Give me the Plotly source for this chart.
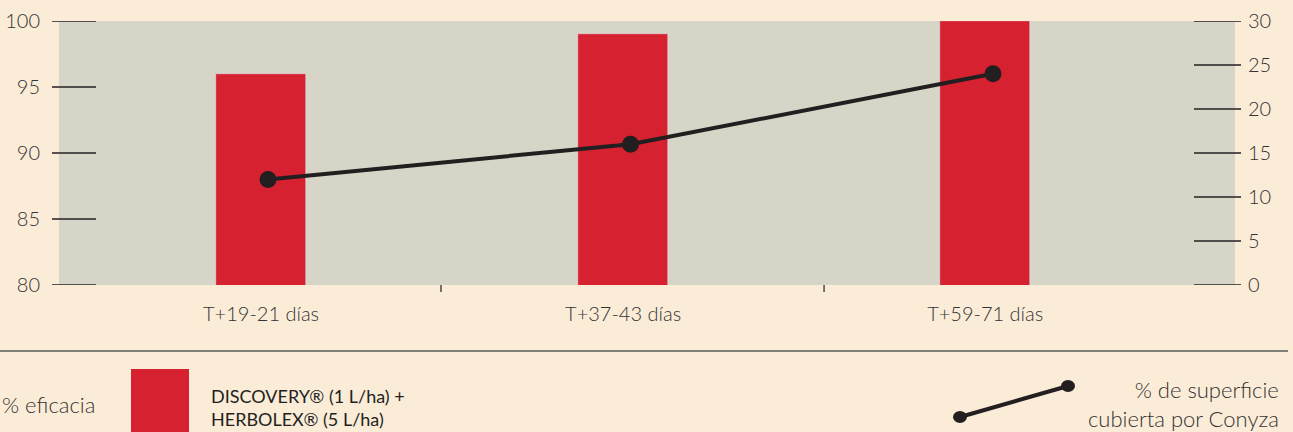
import plotly.graph_objects as go

# ---- data ----
categories = ["T+19-21 días", "T+37-43 días", "T+59-71 días"]
eficacia = [96, 99, 100]            # % eficacia (left axis)
superficie = [12, 16, 24]           # % superficie cubierta por Conyza (right axis)
left_ticks = [80, 85, 90, 95, 100]
right_ticks = [0, 5, 10, 15, 20, 25, 30]
x_idx = [0, 1, 2]
x_separators = [0.497, 1.555]

bar_name = "DISCOVERY® (1 L/ha) +<br>HERBOLEX® (5 L/ha)"
line_name = "% de superficie<br>cubierta por Conyza"

PAPER = "#FBECD8"
PLOT = "#D7D5C7"
RED = "#D52130"
DARK = "#231F20"
TXT = "#333333"
FONT = "Lato"

fig = go.Figure()

fig.add_trace(go.Bar(
    x=x_idx, y=eficacia, name=bar_name, marker_color=RED,
    width=0.249, xaxis="x", yaxis="y", showlegend=False,
))
fig.add_trace(go.Scatter(
    x=x_idx, y=superficie, name=line_name, mode="lines+markers",
    line=dict(color=DARK, width=4),
    marker=dict(color=DARK, size=17),
    xaxis="x2", yaxis="y2", showlegend=False,
))

# plot area: x 59..1235, y 21..285
W, H = 1176, 264
def px(x):
    return (x - 59) / W
def py(y):
    return (285 - y) / H

shapes = []
for v in left_ticks:
    shapes.append(dict(type="line", xref="paper", yref="y", x0=px(52), x1=px(96),
                       y0=v, y1=v, line=dict(color=DARK, width=1.5), layer="above"))
for v in right_ticks:
    shapes.append(dict(type="line", xref="paper", yref="y2", x0=px(1194), x1=px(1241),
                       y0=v, y1=v, line=dict(color=DARK, width=1.5), layer="above"))
for xs in x_separators:
    shapes.append(dict(type="line", xref="x", yref="paper", x0=xs, x1=xs,
                       y0=py(285), y1=py(292), line=dict(color=DARK, width=1.2)))
shapes.append(dict(type="line", xref="paper", yref="paper", x0=px(0), x1=px(1288),
                   y0=py(351), y1=py(351), line=dict(color="#5A5A5A", width=1.5)))
shapes.append(dict(type="rect", xref="paper", yref="paper", x0=px(131), x1=px(189),
                   y0=py(369), y1=py(440), fillcolor=RED, line=dict(width=0)))
shapes.append(dict(type="line", xref="paper", yref="paper", x0=px(960), x1=px(1068),
                   y0=py(417), y1=py(386), line=dict(color=DARK, width=4)))
for cx, cy in [(960, 417), (1068, 386)]:
    shapes.append(dict(type="circle", xref="paper", yref="paper",
                       x0=px(cx - 7), x1=px(cx + 7), y0=py(cy + 6), y1=py(cy - 6),
                       fillcolor=DARK, line=dict(width=0)))

annotations = [
    dict(text="% eficacia", xref="paper", yref="paper", x=px(0), y=py(404),
         xanchor="left", yanchor="middle", showarrow=False,
         font=dict(family=FONT, size=22, color=TXT, weight=300)),
    dict(text=bar_name, xref="paper", yref="paper", x=px(209), y=py(407),
         xanchor="left", yanchor="middle", align="left", showarrow=False,
         font=dict(family=FONT, size=18, color=DARK, weight=400)),
    dict(text=line_name, xref="paper", yref="paper", x=px(1281), y=py(404),
         xanchor="right", yanchor="middle", align="right", showarrow=False,
         font=dict(family=FONT, size=22, color=TXT, weight=300)),
]

tf = dict(family=FONT, size=20, color=TXT, weight=300)
fig.update_layout(
    width=1293, height=432,
    margin=dict(l=59, r=58, t=21, b=147, autoexpand=False),
    paper_bgcolor=PAPER, plot_bgcolor=PLOT,
    font=dict(family=FONT, color=TXT, size=19),
    xaxis=dict(range=[-0.558, 2.690], tickvals=x_idx, ticktext=categories,
               showgrid=False, zeroline=False, showline=False, ticks="",
               ticklabelstandoff=15, tickfont=tf, automargin=False),
    xaxis2=dict(range=[-0.5766, 2.6676], overlaying="x", visible=False, automargin=False),
    yaxis=dict(range=[80, 100], tickvals=left_ticks, showgrid=False, zeroline=False,
               showline=False, ticks="", ticklabelstandoff=18, tickfont=tf,
               automargin=False),
    yaxis2=dict(range=[0, 30], tickvals=right_ticks, overlaying="y", side="right",
                showgrid=False, zeroline=False, showline=False, ticks="",
                ticklabelstandoff=12, tickfont=tf, automargin=False),
    shapes=shapes, annotations=annotations, bargap=0,
)

post = (
    "document.documentElement.style.margin='0';"
    "document.body.style.margin='0';document.body.style.padding='0';"
    "document.body.style.overflow='hidden';"
    "var d=document.getElementById('{plot_id}');"
    "d.style.position='fixed';d.style.left='0px';d.style.top='0px';"
)
fig.write_html("out.html", config={"displayModeBar": False}, post_script=post)
